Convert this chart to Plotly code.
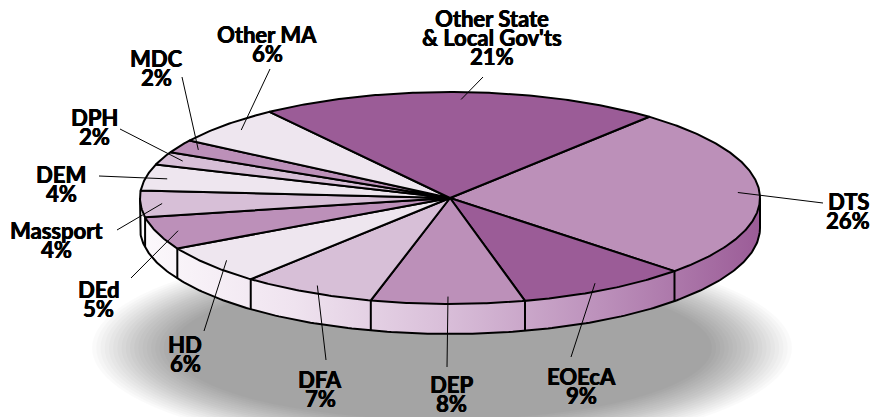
import numpy as np
import plotly.graph_objects as go

# ---- data (clockwise from DTS) ----
categories = ["DTS", "EOEcA", "DEP", "DFA", "HD", "DEd", "Massport", "DEM",
              "DPH", "MDC", "Other MA", "Other State & Local Gov'ts"]
values = [26, 9, 8, 7, 6, 5, 4, 4, 2, 2, 6, 21]
label_lines = [["DTS"], ["EOEcA"], ["DEP"], ["DFA"], ["HD"], ["DEd"], ["Massport"],
               ["DEM"], ["DPH"], ["MDC"], ["Other MA"], ["Other State", "& Local Gov'ts"]]

# ---- styling / layout ----
DARK, MED, LIGHT, VLIGHT = "#9b5c97", "#bc90b9", "#d7bfd7", "#eee6ef"
slice_colors = [MED, DARK, MED, LIGHT, VLIGHT, MED, LIGHT, VLIGHT, LIGHT, MED, VLIGHT, DARK]
CX, CY, A, B, DEPTH = 450, 198, 310, 106, 30
START = 50.0
label_pos = [(848, 201), (581, 376), (451, 384), (320, 379), (185, 344), (98, 289),
             (56, 230), (61, 174), (94, 117), (156, 58), (267, 34.5), (492, 18.3)]
leader_end = [(823, 203), (571, 357), (447, 367), (326, 360), (204, 331), (131, 278),
              (117, 230), (99, 176), (120, 129), (182, 77), (270, 69), (483, 77)]
LINE_STEP = 19
FONT = dict(family="Lato, 'Open Sans', sans-serif", size=22, color="black", weight="bold",
            shadow="0.5px 0 0 #000, -0.3px 0 0 #000")


def pt(t_deg, r=1.0, dy=0.0):
    t = np.radians(t_deg)
    return CX + r * A * np.cos(t), CY - r * B * np.sin(t) + dy


total = float(sum(values))
bounds = [START]
for v in values:
    bounds.append(bounds[-1] - 360.0 * v / total)

fig = go.Figure()

# shadow (soft, layered ellipses)
shapes = []
N = 20
SX, SY = 442, 348
for i in range(N):
    f = i / (N - 1)
    a = 350 - 80 * f
    b = 104 - 32 * f
    shapes.append(dict(type="circle", xref="x", yref="y", x0=SX - a, x1=SX + a,
                       y0=SY - b, y1=SY + b, fillcolor="rgba(0,0,0,0.0177)",
                       line=dict(width=0), layer="below"))

# side wall (front half)
ts = np.linspace(-180, 0, 240)
tx, ty = pt(ts)
bx, by = pt(ts[::-1], dy=DEPTH)
fig.add_trace(go.Scatter(
    x=np.concatenate([tx, bx]), y=np.concatenate([ty, by]), mode="lines",
    fill="toself", line=dict(width=0, color="rgba(0,0,0,0)"),
    fillgradient=dict(type="horizontal", start=CX - A, stop=CX + A,
                      colorscale=[[0, "#fcf9fc"], [0.25, "#efe3ef"], [0.5, "#d8bdd8"],
                                  [0.75, "#bb8fba"], [1, "#9b5c97"]]),
    hoverinfo="skip"))

# side outline
lx0, ly0 = pt(-180)
rx0, ry0 = pt(0)
bx2, by2 = pt(ts, dy=DEPTH)
fig.add_trace(go.Scatter(
    x=np.concatenate([[lx0], bx2, [rx0]]), y=np.concatenate([[ly0], by2, [ry0]]),
    mode="lines", line=dict(color="black", width=2), hoverinfo="skip"))

# side dividers
for t in bounds[1:-1]:
    tt = ((t + 180) % 360) - 180
    if -180 < tt < 0:
        x1, y1 = pt(tt)
        x2, y2 = pt(tt, dy=DEPTH)
        fig.add_trace(go.Scatter(x=[x1, x2], y=[y1, y2], mode="lines",
                                 line=dict(color="black", width=2), hoverinfo="skip"))

# top slices
for i, v in enumerate(values):
    t0, t1 = bounds[i], bounds[i + 1]
    n = max(4, int(abs(t0 - t1) * 2))
    arc = np.linspace(t0, t1, n)
    ax_, ay_ = pt(arc)
    fig.add_trace(go.Scatter(
        x=np.concatenate([[CX], ax_, [CX]]), y=np.concatenate([[CY], ay_, [CY]]),
        mode="lines", fill="toself", fillcolor=slice_colors[i],
        line=dict(color="black", width=2), hoverinfo="skip"))

# leader lines + labels
annotations = []
for i, v in enumerate(values):
    mid = (bounds[i] + bounds[i + 1]) / 2
    ix, iy = pt(mid, r=0.93)
    ex, ey = leader_end[i]
    fig.add_trace(go.Scatter(x=[ix, ex], y=[iy, ey], mode="lines",
                             line=dict(color="black", width=1), hoverinfo="skip"))
    lx, ly = label_pos[i]
    lines = label_lines[i] + [f"{v}%"]
    for k, txt in enumerate(lines):
        annotations.append(dict(x=lx, y=ly + k * LINE_STEP, xref="x", yref="y",
                                text=txt, showarrow=False, font=FONT,
                                borderpad=0, xanchor="center", yanchor="middle"))

fig.update_layout(
    width=875, height=417, margin=dict(l=0, r=0, t=0, b=0),
    paper_bgcolor="white", plot_bgcolor="white", showlegend=False,
    xaxis=dict(range=[0, 875], visible=False, fixedrange=True),
    yaxis=dict(range=[417, 0], visible=False, fixedrange=True),
    shapes=shapes, annotations=annotations)

fig.write_html("out.html", config={"displayModeBar": False},
               post_script="document.body.style.margin='0';")
